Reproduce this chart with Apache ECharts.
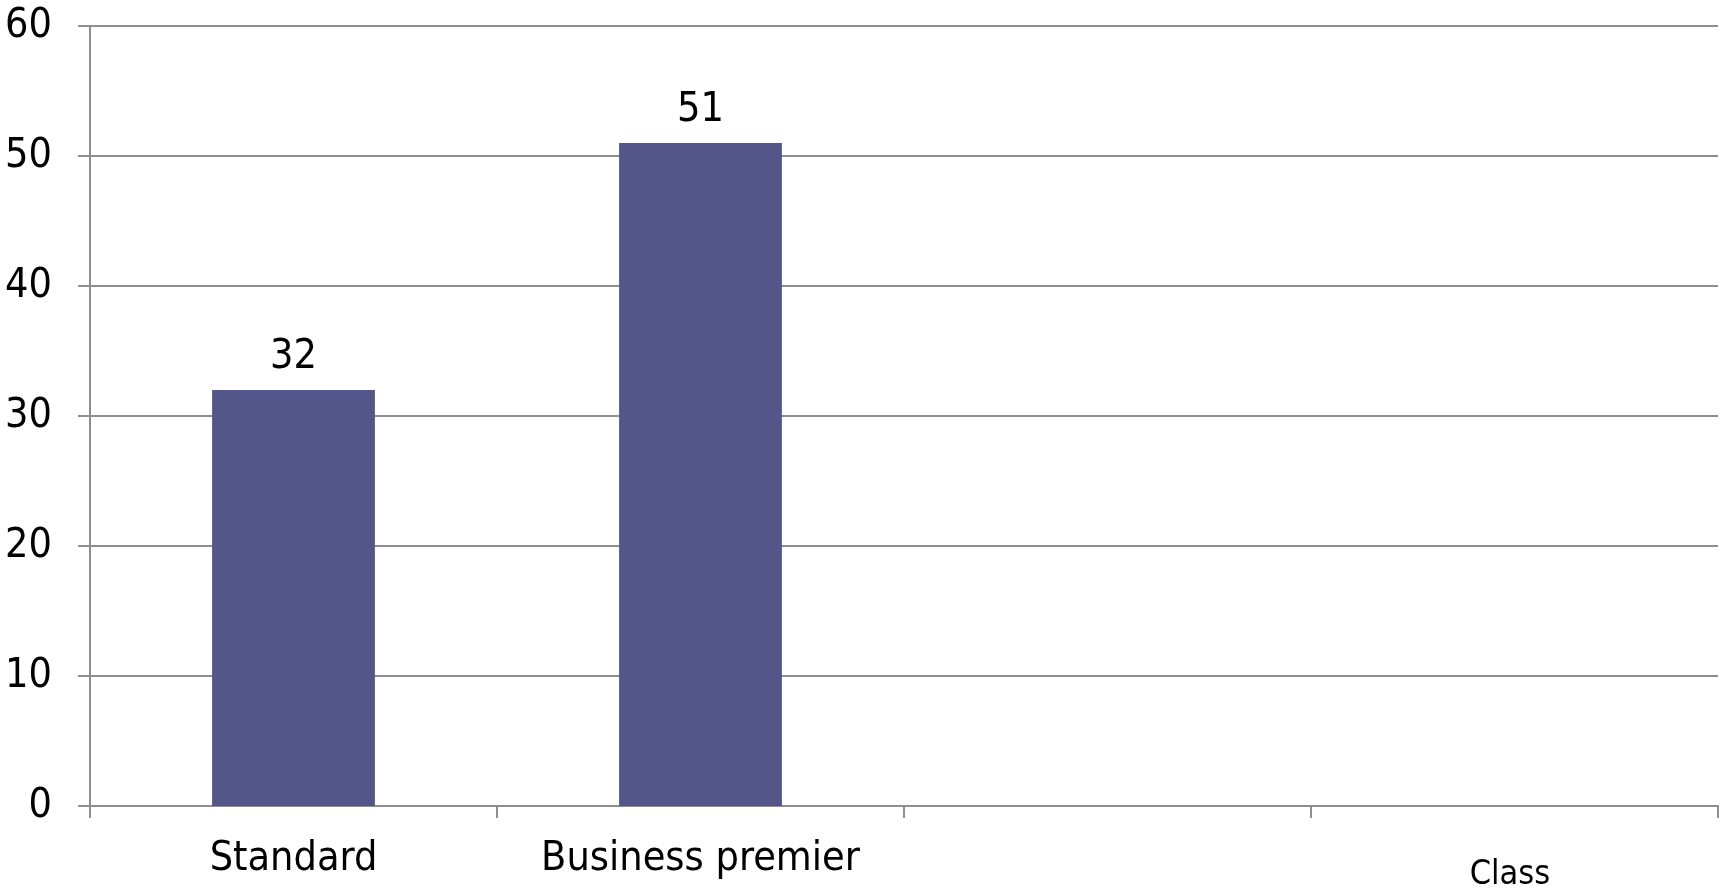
<!DOCTYPE html>
<html>
<head>
<meta charset="utf-8">
<script src="https://cdn.jsdelivr.net/npm/echarts@6/dist/echarts.min.js"></script>
<style>
  html, body { margin: 0; padding: 0; background: #fff; }
  #chart { width: 1720px; height: 890px; }
</style>
</head>
<body>
<div id="chart"></div>
<script>
// data
var categories = ['Standard', 'Business premier', '', ''];
var counts = [32, 51, null, null];
var yTicks = { min: 0, max: 60, step: 10 };
var axisTitle = 'Class';

var font = "'DejaVu Sans Condensed', 'Liberation Sans', sans-serif";
var gray = '#8e8e8e';

var chart = echarts.init(document.getElementById('chart'));
var option = {
    backgroundColor: '#fff',
    animation: false,
    title: {
        text: axisTitle,
        left: 1505,
        top: 853,
        textAlign: 'center',
        textStyle: { fontFamily: font, fontSize: 34, fontWeight: 'normal', color: '#000' }
    },
    grid: { left: 90, right: 2, top: 26, bottom: 84, containLabel: false },
    xAxis: {
        type: 'category',
        data: categories,
        axisLine: { lineStyle: { color: gray, width: 2 } },
        axisTick: { show: true, length: 12, lineStyle: { color: gray, width: 2 } },
        axisLabel: { fontFamily: font, fontSize: 41, color: '#000', margin: 33, interval: 0 }
    },
    yAxis: {
        type: 'value',
        min: yTicks.min,
        max: yTicks.max,
        interval: yTicks.step,
        axisLine: { show: true, lineStyle: { color: gray, width: 2 } },
        axisTick: { show: true, length: 12, lineStyle: { color: gray, width: 2 } },
        axisLabel: { fontFamily: font, fontSize: 41, color: '#000', margin: 38 },
        splitLine: { show: true, lineStyle: { color: gray, width: 2 } }
    },
    series: [
        {
            type: 'bar',
            data: counts,
            barWidth: '40%',
            itemStyle: { color: '#545589' },
            label: {
                show: true,
                position: 'top',
                distance: 12,
                fontFamily: font,
                fontSize: 41,
                color: '#000'
            }
        }
    ]
};
chart.setOption(option);
</script>
</body>
</html>
